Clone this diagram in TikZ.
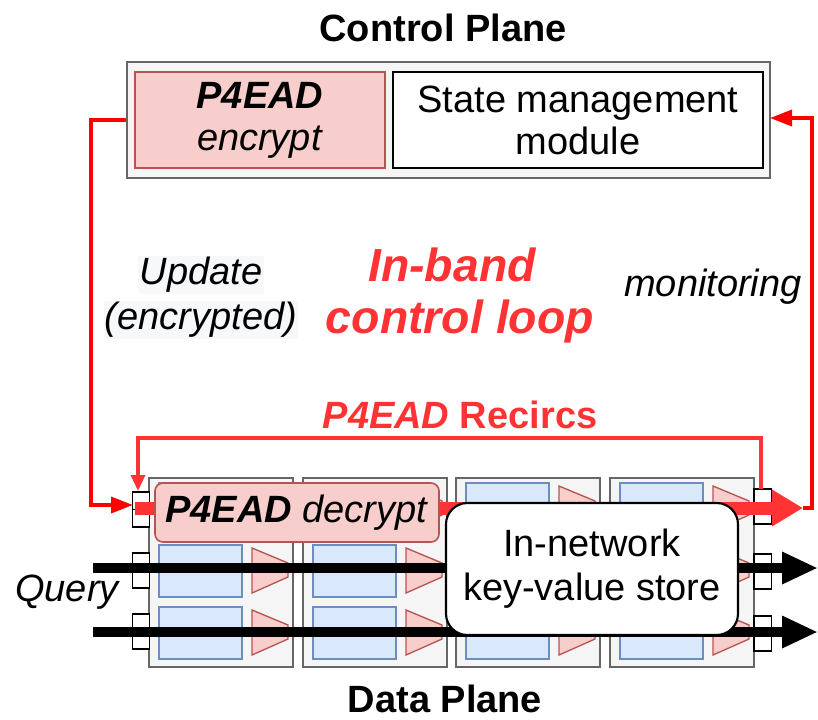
\documentclass[tikz,border=0pt]{standalone}
\usepackage{fontspec}
\setmainfont{Liberation Sans}
\usetikzlibrary{arrows.meta}
\definecolor{grayfill}{HTML}{F5F5F5}
\definecolor{grayline}{HTML}{666666}
\definecolor{redfill}{HTML}{F8CECC}
\definecolor{redline}{HTML}{B85450}
\definecolor{bluefill}{HTML}{DAE8FC}
\definecolor{blueline}{HTML}{6C8EBF}
\definecolor{loopred}{HTML}{FF0000}
\definecolor{recred}{HTML}{FF3333}
\definecolor{labelbg}{HTML}{F7F8FA}
\newcommand{\bodyfont}{\fontsize{28.5}{31.5}\selectfont}
\begin{document}
\begin{tikzpicture}[x=0.75pt,y=-0.75pt,
  txt/.style={font=\bodyfont, inner sep=0pt, align=center},
  planebox/.style={draw=grayline, fill=grayfill, line width=1.5pt},
  stagebox/.style={draw=grayline, fill=grayfill, line width=1.2pt, minimum width=108pt, minimum height=141.75pt, inner sep=0pt},
  bluebox/.style={draw=blueline, fill=bluefill, line width=1.1pt, minimum width=62.25pt, minimum height=39pt, inner sep=0pt},
  trap/.style={draw=redline, fill=redfill, line width=1pt},
  portbox/.style={draw=black, fill=white, line width=1pt, minimum width=13pt, minimum height=13pt, inner sep=0pt},
  thinred/.style={draw=loopred, line width=2.6pt},
  recline/.style={draw=recred, line width=2.4pt},
]
\useasboundingbox (0,0) rectangle (818,719);

% ---------- Control plane ----------
\node[txt, font=\bodyfont\bfseries] (cptitle) at (443,28) {Control Plane};
\node[planebox, minimum width=482.25pt, minimum height=87pt, inner sep=0pt] (cp) at (448.5,120) {};
\node[draw=redline, fill=redfill, line width=1.1pt, minimum width=187.5pt, minimum height=72pt, txt] (enc) at (260,120)
  {\textbf{\textit{P4EAD}}\\\textit{encrypt}};
\node[draw=black, fill=white, line width=1.5pt, minimum width=277.5pt, minimum height=72pt, txt] (state) at (578,120)
  {State management\\module};

% ---------- labels in the middle ----------
\node[txt, fill=labelbg, inner sep=1pt, font=\bodyfont\itshape] (upd1) at (201,275) {Update};
\node[txt, fill=labelbg, inner sep=1pt, font=\bodyfont\itshape] (upd2) at (201,320) {(encrypted)};
\node[txt, text=recred, font=\fontsize{34.8}{40}\selectfont\bfseries\itshape] (inband) at (452,265) {In-band};
\node[txt, text=recred, font=\fontsize{34.8}{40}\selectfont\bfseries\itshape] (ctrl) at (460,321) {control loop};
\node[txt, font=\bodyfont\itshape] (mon) at (713,287) {monitoring};
\node[txt, text=recred, font=\bodyfont\bfseries] (recirc) at (460,415) {\textit{P4EAD} Recircs};

% ---------- stages ----------
\foreach \sx/\nm in {149/s1,303/s2,456/s3,610/s4}{
  \node[stagebox] (\nm) at (\sx+72,572.5) {};
  \foreach \ry/\r in {483/a,545/b,607/c}{
    \node[bluebox] (\nm\r) at (\sx+51.5,\ry+26) {};
    \filldraw[trap] (\sx+103,\ry+3) -- (\sx+139,\ry+18) -- (\sx+139,\ry+32) -- (\sx+103,\ry+48) -- cycle;
  }
}

% ---------- ports ----------
\foreach \py/\nm in {492/a,553/b,614/c}{
  \node[portbox] (pl\nm1) at (141,\py+8.75) {};
  \node[portbox] (pl\nm2) at (141,\py+26.25) {};
}
\foreach \py/\nm in {489/a,554/b,616/c}{
  \node[portbox] (pr\nm1) at (762.5,\py+8.75) {};
  \node[portbox] (pr\nm2) at (762.5,\py+26.25) {};
}

% ---------- thick red bar ----------
\coordinate (barstart) at (135,508);
\coordinate (bartip) at (803,508);
\draw[recred, line width=9.75pt, -{Triangle[length=23.25pt, width=26pt]}] (barstart) -- (bartip);

% ---------- query arrows ----------
\coordinate (q1s) at (93,568);
\coordinate (q1e) at (818,568);
\coordinate (q2s) at (93,632);
\coordinate (q2e) at (818,632);
\draw[black, line width=7.5pt, -{Triangle[length=27pt, width=22.5pt]}] (q1s) -- (q1e);
\draw[black, line width=7.5pt, -{Triangle[length=27pt, width=22.5pt]}] (q2s) -- (q2e);
\node[txt, font=\bodyfont\itshape] (query) at (67,592) {Query};

% ---------- decrypt box ----------
\node[draw=redline, fill=redfill, line width=1.2pt, rounded corners=6pt, minimum width=213pt, minimum height=44.25pt, txt] (dec) at (297,512.5)
  {\textbf{\textit{P4EAD}} \textit{decrypt}};

% ---------- KV store ----------
\node[draw=black, fill=white, line width=1.6pt, rounded corners=16pt, minimum width=219pt, minimum height=99pt, txt, font=\fontsize{28.5}{33}\selectfont] (kv) at (592,569)
  {In-network\\key-value store};

% ---------- red loops ----------
\coordinate (lc1) at (91,120);
\coordinate (lc2) at (91,505);
\coordinate (lin) at (133,505);
\draw[thinred, -{Triangle[length=16.5pt, width=12pt]}] (cp.west) -- (lc1) -- (lc2) -- (lin);

\coordinate (rc1) at (812,508);
\coordinate (rc2) at (812,118);
\coordinate (rin) at (770,118);
\draw[thinred, -{Triangle[length=16.5pt, width=12pt]}] (bartip) -- (rc1) -- (rc2) -- (rin);

\coordinate (recs) at (761,489);
\coordinate (rec1) at (761,438);
\coordinate (rec2) at (138,438);
\coordinate (rece) at (138,491);
\draw[recline, -{Triangle[length=12pt, width=10.5pt]}] (recs) -- (rec1) -- (rec2) -- (rece);

% ---------- data plane title ----------
\node[txt, font=\bodyfont\bfseries] (dptitle) at (445,699) {Data Plane};
\end{tikzpicture}
\end{document}
